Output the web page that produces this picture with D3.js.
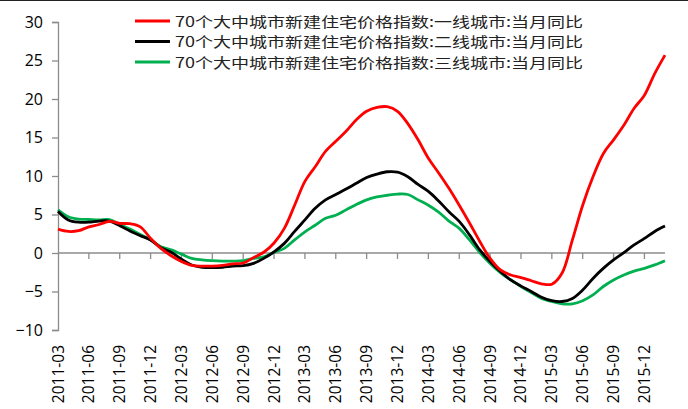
<!DOCTYPE html>
<html>
<head>
<meta charset="utf-8">
<script src="https://cdn.jsdelivr.net/npm/d3@7"></script>
<style>
  body { margin: 0; background: #fff; }
  text { font-family: "Liberation Sans", "Noto Sans", sans-serif; }
</style>
</head>
<body>
<script>
// monthly, 2011-03 .. 2016-02
var months = [];
for (var y = 2011; y <= 2016; y++) {
  for (var m = 1; m <= 12; m++) {
    if ((y === 2011 && m < 3) || (y === 2016 && m > 2)) continue;
    months.push(y + "-" + (m < 10 ? "0" + m : m));
  }
}

var tier1 = [3.1, 2.8, 2.9, 3.4, 3.7, 4.1, 3.85, 3.8, 3.4, 1.9,
  0.6, -0.35, -1.1, -1.6, -1.7, -1.7, -1.6, -1.4, -1.3, -0.6,
  0.1, 1.3, 3.2, 6.2, 9.3, 11.2, 13.2, 14.5, 15.8, 17.3,
  18.4, 18.9, 19.0, 18.4, 16.8, 14.7, 12.3, 10.4, 8.4, 6.2,
  3.9, 1.5, -0.7, -2.2, -2.85, -3.2, -3.6, -4.0, -4.05, -2.6,
  1.7, 6.2, 9.9, 12.9, 14.7, 16.6, 18.8, 20.5, 23.3, 25.7];

var tier2 = [5.4, 4.3, 4.0, 4.0, 4.15, 4.15, 3.55, 2.85, 2.25, 1.7,
  0.7, 0.1, -0.8, -1.55, -1.85, -1.9, -1.85, -1.7, -1.65, -1.35,
  -0.7, 0.15, 1.25, 2.8, 4.3, 5.8, 6.9, 7.6, 8.3, 9.05,
  9.8, 10.25, 10.55, 10.5, 9.9, 8.9, 8.0, 6.75, 5.35, 4.1,
  2.35, 0.4, -1.1, -2.4, -3.5, -4.3, -5.0, -5.75, -6.2, -6.3,
  -5.9, -4.8, -3.3, -2.0, -0.9, 0.05, 1.05, 1.9, 2.8, 3.5];

var tier3 = [5.6, 4.7, 4.4, 4.35, 4.3, 4.35, 3.7, 3.1, 2.4, 1.7,
  0.8, 0.4, -0.15, -0.7, -0.9, -1.0, -1.05, -1.05, -1.0, -0.7,
  -0.5, 0.1, 0.6, 1.7, 2.75, 3.6, 4.5, 4.9, 5.6, 6.3,
  6.9, 7.3, 7.5, 7.65, 7.6, 6.9, 6.2, 5.3, 4.15, 3.2,
  1.7, 0.05, -1.35, -2.55, -3.5, -4.35, -5.15, -5.9, -6.3, -6.6,
  -6.6, -6.2, -5.45, -4.35, -3.5, -2.85, -2.35, -2.0, -1.55, -1.0];

var seriesNames = [
  "70个大中城市新建住宅价格指数:一线城市:当月同比",
  "70个大中城市新建住宅价格指数:二线城市:当月同比",
  "70个大中城市新建住宅价格指数:三线城市:当月同比"
];
var seriesColors = ["#ff0000", "#000000", "#00b050"];
var yTicks = [-10, -5, 0, 5, 10, 15, 20, 25, 30];

var width = 688, height = 409;
var svg = d3.select("body").append("svg")
  .attr("width", width)
  .attr("height", height);

// thin dark line along the top edge
svg.append("rect").attr("x", 0).attr("y", 0).attr("width", width).attr("height", 1).attr("fill", "#222");

var x = d3.scaleLinear().domain([0, months.length - 1]).range([58, 665]);
var yScale = d3.scaleLinear().domain([-10, 30]).range([330, 22]);

// y axis
var yAxis = d3.axisLeft(yScale).tickValues(yTicks).tickSize(6).tickPadding(9);
var gy = svg.append("g").attr("transform", "translate(58,0)").call(yAxis);
gy.select(".domain").attr("stroke", "#8c8c8c").attr("stroke-width", 1.3);
gy.selectAll(".tick line").attr("stroke", "#8c8c8c").attr("stroke-width", 1.3);
gy.selectAll(".tick text").attr("font-size", 16).attr("fill", "#000")
  .style("font-family", "'Open Sans', 'Liberation Sans', sans-serif");

// x axis line at zero
var tickIdx = [];
for (var i = 0; i < months.length; i += 3) tickIdx.push(i);
svg.append("line")
  .attr("x1", x(0)).attr("x2", x(months.length - 1))
  .attr("y1", yScale(0)).attr("y2", yScale(0))
  .attr("stroke", "#8c8c8c").attr("stroke-width", 1.3);
svg.selectAll(".xtick").data(tickIdx.slice(1)).enter().append("line")
  .attr("x1", function(d){ return x(d); })
  .attr("x2", function(d){ return x(d); })
  .attr("y1", yScale(0)).attr("y2", yScale(0) + 6)
  .attr("stroke", "#8c8c8c").attr("stroke-width", 1.3);

// x labels at the bottom, rotated
svg.selectAll(".xlab").data(tickIdx).enter().append("text")
  .attr("transform", function(d){ return "translate(" + (x(d) + 5.5) + ",345) rotate(-90)"; })
  .attr("text-anchor", "end")
  .attr("font-size", 15.5)
  .attr("fill", "#000")
  .style("font-family", "'Open Sans', 'Liberation Sans', sans-serif")
  .text(function(d){ return months[d]; });

// lines
var line = d3.line()
  .x(function(d, i){ return x(i); })
  .y(function(d){ return yScale(d); })
  .curve(d3.curveCatmullRom.alpha(0.5));

var allSeries = [tier1, tier2, tier3];
for (var s = 2; s >= 0; s--) {
  svg.append("path")
    .datum(allSeries[s])
    .attr("d", line)
    .attr("fill", "none")
    .attr("stroke", seriesColors[s])
    .attr("stroke-width", 2.8)
    .attr("stroke-linejoin", "round");
}

// legend
var legend = svg.selectAll(".leg").data(seriesNames).enter().append("g")
  .attr("transform", function(d, i){ return "translate(0," + (21 + i * 20.5) + ")"; });
legend.append("line")
  .attr("x1", 135).attr("x2", 170).attr("y1", 0).attr("y2", 0)
  .attr("stroke", function(d, i){ return seriesColors[i]; })
  .attr("stroke-width", 3);
legend.append("text")
  .attr("x", 175).attr("y", 5.5)
  .attr("font-size", 14)
  .attr("fill", "#222")
  .attr("textLength", 408)
  .attr("lengthAdjust", "spacingAndGlyphs")
  .style("font-family", "'Noto Sans CJK SC', sans-serif")
  .text(function(d){ return d; });
</script>
</body>
</html>
